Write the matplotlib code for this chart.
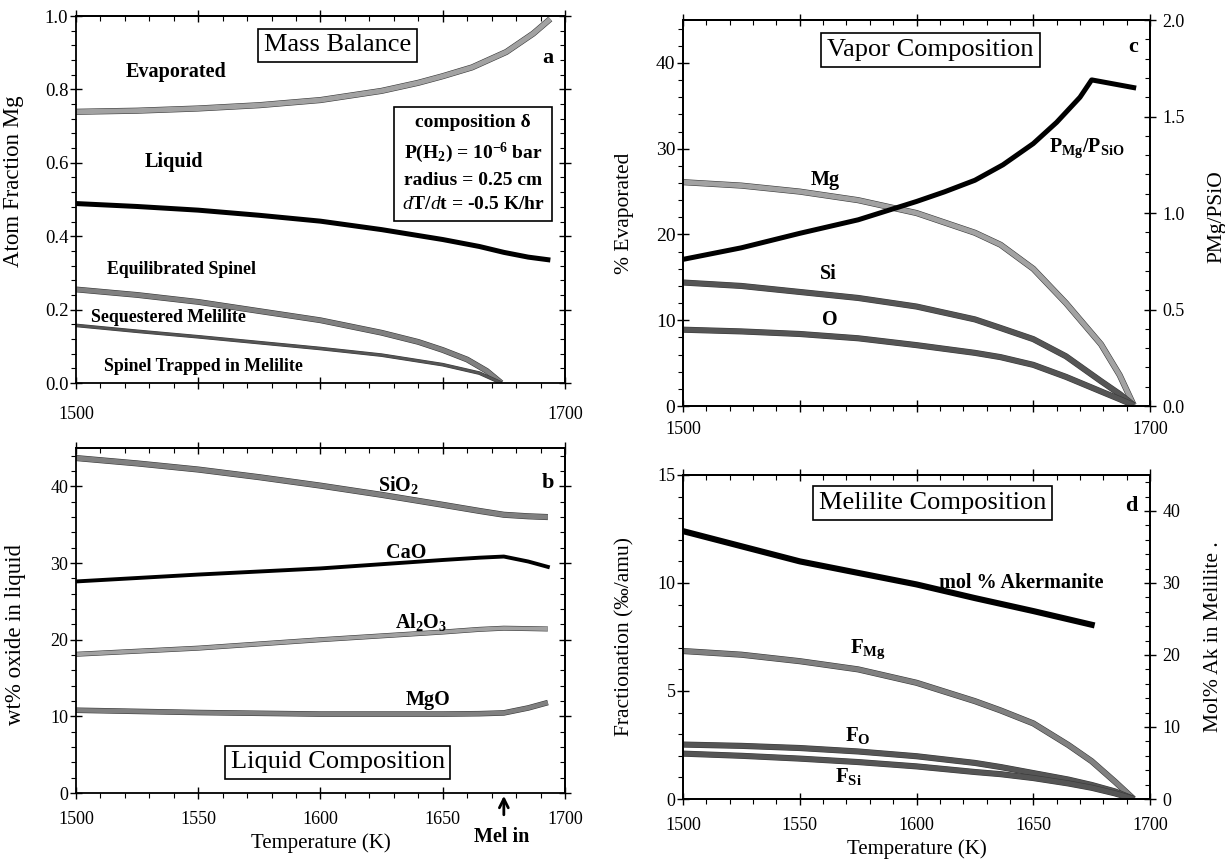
import matplotlib
matplotlib.use("Agg")
import matplotlib.pyplot as plt
from matplotlib.ticker import MultipleLocator, FormatStrFormatter, NullFormatter
import matplotlib.patheffects as pe

plt.rcParams['font.family'] = ['Liberation Serif', 'DejaVu Serif']
plt.rcParams['mathtext.fontset'] = 'custom'
plt.rcParams['mathtext.rm'] = 'Liberation Serif'
plt.rcParams['mathtext.it'] = 'Liberation Serif:italic'
plt.rcParams['mathtext.bf'] = 'Liberation Serif:bold'

# ---------------- data ----------------
# Panel a: Mass balance (atom fraction Mg)
T_evap = [1500, 1525, 1550, 1575, 1600, 1625, 1640, 1650, 1662, 1676, 1687, 1694]
evap = [0.739, 0.742, 0.748, 0.757, 0.771, 0.796, 0.818, 0.836, 0.860, 0.902, 0.952, 0.992]
T_liq = [1500, 1525, 1550, 1575, 1600, 1625, 1650, 1665, 1675, 1685, 1693]
liq = [0.489, 0.481, 0.471, 0.457, 0.441, 0.418, 0.391, 0.372, 0.356, 0.343, 0.336]
T_spin = [1500, 1525, 1550, 1575, 1600, 1625, 1640, 1650, 1660, 1668, 1674]
spin = [0.255, 0.240, 0.221, 0.196, 0.171, 0.137, 0.112, 0.090, 0.064, 0.033, 0.0]
T_seq = [1500, 1525, 1550, 1575, 1600, 1625, 1650, 1665, 1674]
seq = [0.157, 0.141, 0.126, 0.110, 0.094, 0.076, 0.050, 0.027, 0.0]

# Panel c: vapor composition
T_vap = [1500, 1525, 1550, 1575, 1600, 1625, 1636, 1650, 1664, 1679, 1687, 1693]
vap_Mg = [26.1, 25.7, 25.0, 24.0, 22.5, 20.2, 18.8, 16.0, 12.0, 7.2, 3.6, 0.1]
vap_Si = [14.4, 14.0, 13.3, 12.6, 11.6, 10.1, 9.1, 7.8, 5.8, 2.9, 1.4, 0.1]
vap_O = [8.9, 8.7, 8.4, 7.9, 7.1, 6.2, 5.7, 4.8, 3.4, 1.7, 0.8, 0.1]
T_ratio = [1500, 1525, 1550, 1575, 1600, 1612, 1625, 1637, 1650, 1660, 1670, 1675, 1693]
ratio = [0.76, 0.82, 0.895, 0.965, 1.06, 1.11, 1.17, 1.25, 1.36, 1.47, 1.60, 1.69, 1.65]

# Panel b: liquid composition (wt%)
T_ox = [1500, 1525, 1550, 1575, 1600, 1625, 1650, 1665, 1675, 1685, 1693]
SiO2 = [43.7, 43.0, 42.2, 41.2, 40.1, 38.9, 37.6, 36.8, 36.3, 36.1, 36.0]
CaO = [27.6, 28.05, 28.5, 28.9, 29.3, 29.85, 30.4, 30.7, 30.85, 30.2, 29.5]
Al2O3 = [18.1, 18.5, 18.9, 19.45, 20.0, 20.5, 21.0, 21.35, 21.5, 21.45, 21.4]
MgO = [10.8, 10.65, 10.5, 10.4, 10.3, 10.3, 10.3, 10.35, 10.45, 11.1, 11.8]
mel_in_T = 1675

# Panel d: melilite composition
T_ak = [1500, 1525, 1550, 1575, 1600, 1625, 1650, 1675]
akermanite = [37.2, 35.1, 33.0, 31.4, 29.8, 27.9, 26.1, 24.2]
T_frac = [1500, 1525, 1550, 1575, 1600, 1625, 1636, 1650, 1665, 1675, 1685, 1693]
F_Mg = [6.85, 6.68, 6.38, 6.0, 5.38, 4.53, 4.1, 3.5, 2.5, 1.75, 0.8, 0.0]
F_O = [2.52, 2.46, 2.36, 2.2, 1.98, 1.67, 1.48, 1.2, 0.9, 0.65, 0.35, 0.0]
F_Si = [2.1, 2.0, 1.87, 1.71, 1.51, 1.25, 1.15, 0.97, 0.72, 0.52, 0.26, 0.0]

# ---------------- figure ----------------
fig = plt.figure(figsize=(12.25, 8.65), dpi=100)

LIGHT = '#a2a2a2'
MID = '#808080'
DARK = '#555555'

def gline(ax, x, y, color, lw):
    ax.plot(x, y, color=color, lw=lw, solid_capstyle='butt',
            path_effects=[pe.Stroke(linewidth=lw + 0.8, foreground='#3a3a3a'), pe.Normal()])

def style(ax, ymaj, ymin, ylabsize=13, right=True):
    ax.set_xlim(1500, 1700)
    ax.xaxis.set_major_locator(MultipleLocator(50))
    ax.xaxis.set_minor_locator(MultipleLocator(10))
    ax.yaxis.set_major_locator(MultipleLocator(ymaj))
    ax.yaxis.set_minor_locator(MultipleLocator(ymin))
    ax.tick_params(which='major', direction='inout', length=8, width=1,
                   top=False, right=False)
    ax.tick_params(which='minor', direction='out', length=3.5, width=0.8,
                   top=False, right=False)
    ax.tick_params(axis='x', labelsize=13)
    ax.tick_params(axis='y', labelsize=ylabsize, pad=1.5)
    for s in ax.spines.values():
        s.set_linewidth(1.3)
    sx = ax.secondary_xaxis('top')
    sx.xaxis.set_major_locator(MultipleLocator(50))
    sx.xaxis.set_minor_locator(MultipleLocator(10))
    sx.xaxis.set_major_formatter(NullFormatter())
    sx.tick_params(which='major', direction='inout', length=8, width=1)
    sx.tick_params(which='minor', direction='in', length=3.5, width=0.8)
    sx.spines['top'].set_linewidth(1.3)
    if right:
        sy = ax.secondary_yaxis('right')
        sy.yaxis.set_major_locator(MultipleLocator(ymaj))
        sy.yaxis.set_minor_locator(MultipleLocator(ymin))
        sy.yaxis.set_major_formatter(NullFormatter())
        sy.tick_params(which='major', direction='inout', length=8, width=1)
        sy.tick_params(which='minor', direction='in', length=3.5, width=0.8)
        sy.spines['right'].set_linewidth(1.3)

def ends_only(ax, pad):
    ax.set_xticks([1500, 1550, 1600, 1650, 1700])
    ax.set_xticklabels(['1500', '', '', '', '1700'])
    ax.tick_params(axis='x', which='major', pad=pad)

def twin_style(ax2, maj, mnr):
    ax2.yaxis.set_major_locator(MultipleLocator(maj))
    ax2.yaxis.set_minor_locator(MultipleLocator(mnr))
    ax2.tick_params(which='major', direction='inout', length=8, width=1, labelsize=13, pad=5)
    ax2.tick_params(which='minor', direction='in', length=3.5, width=0.8)
    for s in ax2.spines.values():
        s.set_linewidth(1.3)

boxkw = dict(boxstyle='square,pad=0.22', fc='white', ec='black', lw=1.2)
TITLE = 19
LAB = 14.5

# ---- Panel a ----
axa = fig.add_axes([0.0620, 0.5572, 0.3992, 0.4243])
gline(axa, T_evap, evap, LIGHT, 3.6)
axa.plot(T_liq, liq, color='black', lw=3.6)
gline(axa, T_spin, spin, MID, 3.4)
gline(axa, T_seq, seq, DARK, 1.8)
axa.set_ylim(0, 1.0)
style(axa, 0.2, 0.04, ylabsize=13.5)
ends_only(axa, 12.5)
axa.yaxis.set_major_formatter(FormatStrFormatter('%.1f'))
axa.set_ylabel('Atom Fraction Mg', fontsize=16.5)
axa.yaxis.set_label_coords(-0.106, 0.55)
axa.text(1607, 0.92, 'Mass Balance', fontsize=TITLE, ha='center', va='center', bbox=boxkw)
axa.text(1693, 0.886, 'a', fontsize=16, fontweight='bold', ha='center', va='center')
axa.text(1541, 0.847, 'Evaporated', fontsize=LAB, fontweight='bold', ha='center', va='center')
axa.text(1540, 0.602, 'Liquid', fontsize=LAB, fontweight='bold', ha='center', va='center')
axa.text(1543, 0.310, 'Equilibrated Spinel', fontsize=12.8, fontweight='bold', ha='center', va='center')
axa.text(1538, 0.178, 'Sequestered Melilite', fontsize=12.8, fontweight='bold', ha='center', va='center')
axa.text(1552, 0.046, 'Spinel Trapped in Melilite', fontsize=12.8, fontweight='bold', ha='center', va='center')
box_text = ('composition δ\n'
            'P(H$_\\mathbf{2}$) = 10$^{\\mathbf{-6}}$ bar\n'
            'radius = 0.25 cm\n'
            '$\\mathit{d}$T/$\\mathit{d}$t = -0.5 K/hr')
axa.text(1662.5, 0.597, box_text, fontsize=14, fontweight='bold', ha='center', va='center',
         linespacing=1.55, bbox=dict(boxstyle='square,pad=0.4', fc='white', ec='black', lw=1.2))

# ---- Panel c ----
axc = fig.add_axes([0.5576, 0.5306, 0.3812, 0.4462])
gline(axc, T_vap, vap_Mg, LIGHT, 3.6)
gline(axc, T_vap, vap_Si, DARK, 3.6)
gline(axc, T_vap, vap_O, DARK, 3.6)
axc.set_ylim(0, 45)
style(axc, 10, 2, ylabsize=14, right=False)
ends_only(axc, 7)
axc.set_ylabel('% Evaporated', fontsize=15.5)
axc.yaxis.set_label_coords(-0.105, 0.5)
axc2 = axc.twinx()
axc2.plot(T_ratio, ratio, color='black', lw=3.6)
axc2.set_ylim(0, 2.0)
twin_style(axc2, 0.5, 0.1)
axc2.yaxis.set_major_formatter(FormatStrFormatter('%.1f'))
axc2.set_ylabel('PMg/PSiO', fontsize=15.5)
axc2.yaxis.set_label_coords(1.124, 0.49)
axc.text(1606, 41.5, 'Vapor Composition', fontsize=TITLE, ha='center', va='center', bbox=boxkw)
axc.text(1693, 41.9, 'c', fontsize=16, fontweight='bold', ha='center', va='center')
axc.text(1673, 30.1, 'P$_\\mathbf{Mg}$/P$_\\mathbf{SiO}$', fontsize=LAB, fontweight='bold',
         ha='center', va='center')
axc.text(1561, 26.3, 'Mg', fontsize=LAB, fontweight='bold', ha='center', va='center')
axc.text(1562, 15.4, 'Si', fontsize=LAB, fontweight='bold', ha='center', va='center')
axc.text(1563, 10.0, 'O', fontsize=LAB, fontweight='bold', ha='center', va='center')

# ---- Panel b ----
axb = fig.add_axes([0.0620, 0.0832, 0.3992, 0.3988])
gline(axb, T_ox, SiO2, MID, 3.6)
axb.plot(T_ox, CaO, color='black', lw=2.8)
gline(axb, T_ox, Al2O3, LIGHT, 2.8)
gline(axb, T_ox, MgO, MID, 3.2)
axb.set_ylim(0, 45)
style(axb, 10, 2)
axb.tick_params(axis='x', which='major', pad=9)
axb.set_xlabel('Temperature (K)', fontsize=15, labelpad=4)
axb.set_ylabel('wt% oxide in liquid', fontsize=16.5)
axb.yaxis.set_label_coords(-0.102, 0.46)
axb.text(1632, 40.2, 'SiO$_\\mathbf{2}$', fontsize=LAB, fontweight='bold', ha='center', va='center')
axb.text(1693, 40.4, 'b', fontsize=16, fontweight='bold', ha='center', va='center')
axb.text(1635, 31.3, 'CaO', fontsize=LAB, fontweight='bold', ha='center', va='center')
axb.text(1641, 22.3, 'Al$_\\mathbf{2}$O$_\\mathbf{3}$', fontsize=LAB, fontweight='bold',
         ha='center', va='center')
axb.text(1644, 12.1, 'MgO', fontsize=LAB, fontweight='bold', ha='center', va='center')
axb.text(1607, 4.0, 'Liquid Composition', fontsize=TITLE, ha='center', va='center', bbox=boxkw)
axb.annotate('', xy=(mel_in_T, 0), xycoords='data',
             xytext=(mel_in_T, -3.2), textcoords='data',
             arrowprops=dict(arrowstyle='->', lw=2.0, color='black', mutation_scale=16),
             annotation_clip=False)
axb.text(mel_in_T - 1, -5.8, 'Mel in', fontsize=LAB, fontweight='bold', ha='center', va='center',
         clip_on=False)

# ---- Panel d ----
axd = fig.add_axes([0.5576, 0.0763, 0.3812, 0.3746])
gline(axd, T_frac, F_Mg, MID, 3.6)
gline(axd, T_frac, F_O, DARK, 3.6)
gline(axd, T_frac, F_Si, DARK, 3.6)
axd.set_ylim(0, 15)
style(axd, 5, 1, right=False)
axd.tick_params(axis='x', which='major', pad=9)
axd.set_xlabel('Temperature (K)', fontsize=15, labelpad=4)
axd.set_ylabel('Fractionation (‰/amu)', fontsize=15.5)
axd.yaxis.set_label_coords(-0.105, 0.5)
axd2 = axd.twinx()
axd2.plot(T_ak, akermanite, color='black', lw=4.4)
axd2.set_ylim(0, 45)
twin_style(axd2, 10, 2)
axd2.set_ylabel('Mol% Ak in Melilite .', fontsize=15.5)
axd2.yaxis.set_label_coords(1.116, 0.5)
axd.text(1607, 13.7, 'Melilite Composition', fontsize=TITLE, ha='center', va='center', bbox=boxkw)
axd.text(1692, 13.56, 'd', fontsize=16, fontweight='bold', ha='center', va='center')
axd.text(1645, 10.0, 'mol % Akermanite', fontsize=LAB, fontweight='bold', ha='center', va='center')
axd.text(1579, 6.94, 'F$_\\mathbf{Mg}$', fontsize=LAB + 0.5, fontweight='bold', ha='center', va='center')
axd.text(1575, 2.92, 'F$_\\mathbf{O}$', fontsize=LAB + 0.5, fontweight='bold', ha='center', va='center')
axd.text(1571, 1.06, 'F$_\\mathbf{Si}$', fontsize=LAB + 0.5, fontweight='bold', ha='center', va='center')

fig.savefig('out.png', dpi=100, facecolor='white')
